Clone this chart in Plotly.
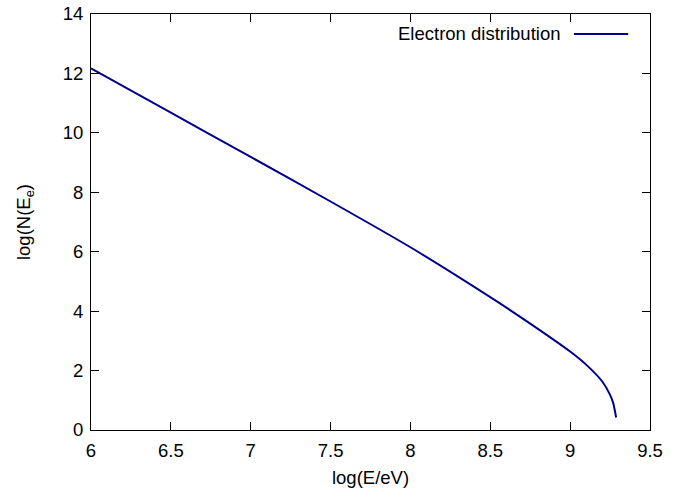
import plotly.graph_objects as go

# Data
log_E = [6.0, 6.5, 7.0, 7.5, 8.0, 8.5, 8.75, 9.0, 9.1, 9.2, 9.25, 9.27, 9.288]
log_N = [12.17, 10.68, 9.19, 7.69, 6.15, 4.47, 3.58, 2.64, 2.20, 1.64, 1.18, 0.90, 0.42]
series_name = "Electron distribution"

x_ticks = [6, 6.5, 7, 7.5, 8, 8.5, 9, 9.5]
y_ticks = [0, 2, 4, 6, 8, 10, 12, 14]

FONT = "Liberation Sans, Arial, sans-serif"
FS = 18.5
LINE_COLOR = "#00008B"

fig = go.Figure()
fig.add_trace(go.Scatter(
    x=log_E, y=log_N, mode="lines", name=series_name,
    line=dict(color=LINE_COLOR, width=2, shape="spline", smoothing=0.6),
    showlegend=False,
))

axis_common = dict(
    showgrid=False, zeroline=False, showline=True, linecolor="black", linewidth=1,
    mirror="ticks", ticks="inside", ticklen=8, tickwidth=1, tickcolor="black",
    tickfont=dict(family=FONT, size=FS, color="black"), automargin=False,
    ticklabeloverflow="allow",
)

fig.update_layout(
    width=694, height=491,
    margin=dict(l=91, r=44, t=14, b=61),
    paper_bgcolor="white", plot_bgcolor="white",
    font=dict(family=FONT, size=FS, color="black"),
    xaxis=dict(range=[6, 9.5], tickvals=x_ticks, ticktext=[f"{v:g}" for v in x_ticks],
               ticklabelstandoff=4,
               title=dict(text="log(E/eV)", font=dict(family=FONT, size=FS), standoff=10),
               **axis_common),
    yaxis=dict(range=[0, 14], tickvals=y_ticks, ticktext=[str(v) for v in y_ticks],
               ticklabelstandoff=3,
               title=dict(text="log(N(E<sub>e</sub>)", font=dict(family=FONT, size=FS), standoff=27),
               **axis_common),
)

# Legend (gnuplot style: text to the left of the sample line)
fig.add_annotation(xref="paper", yref="paper", x=0.8425, y=0.952, text=series_name,
                   showarrow=False, xanchor="right", yanchor="middle",
                   font=dict(family=FONT, size=FS, color="black"))
fig.add_shape(type="line", xref="paper", yref="paper", x0=0.864, x1=0.961, y0=0.952, y1=0.952,
              line=dict(color=LINE_COLOR, width=2))

fig.write_html("out.html", config={"displayModeBar": False},
               post_script="document.body.style.margin='0';")
